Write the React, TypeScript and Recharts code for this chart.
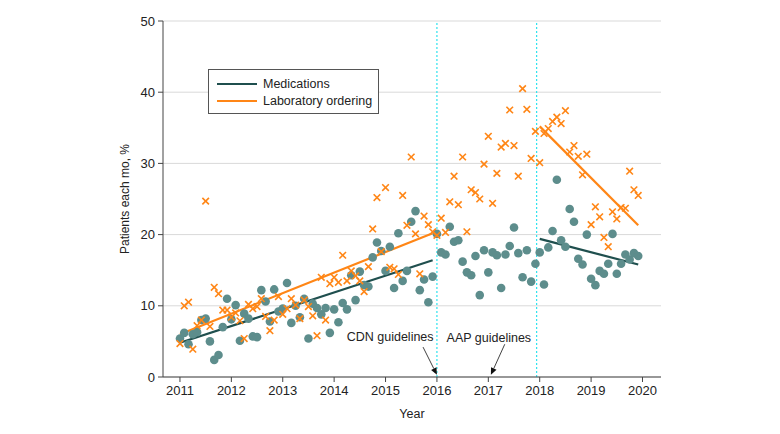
import React from 'react';
import {
  ComposedChart,
  Scatter,
  Line,
  XAxis,
  YAxis,
  CartesianGrid,
  ReferenceLine,
  ReferenceDot,
  Legend,
} from 'recharts';

// ---------- DATA ----------
const START_YEAR = 2011; // first monthly observation: January 2011

const medicationsPct = [
  5.4, 6.2, 4.6, 6.0, 6.3, 8.0, 8.2, 5.0, 2.4, 3.1, 7.0, 11.0,
  8.1, 10.1, 5.1, 8.9, 8.2, 5.7, 5.6, 12.2, 10.6, 7.8, 12.3, 9.2,
  9.6, 13.2, 7.6, 10.0, 8.4, 11.0, 5.4, 10.3, 9.7, 8.8, 9.7, 6.2,
  9.5, 7.7, 10.4, 9.5, 14.3, 10.8, 14.8, 12.9, 12.7, 16.8, 18.9, 17.7,
  14.9, 18.3, 12.5, 20.2, 13.5, 14.9, 21.8, 23.3, 12.2, 13.7, 10.5, 14.1,
  20.1, 17.5, 17.2, 21.1, 19.0, 19.2, 16.2, 14.7, 14.3, 17.0, 11.5, 17.8,
  14.7, 17.5, 17.1, 12.5, 17.2, 18.4, 21.0, 17.4, 14.0, 17.8, 13.4, 15.9,
  17.5, 13.0, 18.2, 20.5, 27.7, 19.2, 18.3, 23.6, 21.8, 16.6, 15.8, 20.0,
  13.8, 12.9, 14.9, 14.5, 15.9, 20.1, 14.5, 15.9, 17.2, 16.5, 17.4, 17.0,
];

const labOrderingPct = [
  4.7, 10.0, 10.5, 3.9, 7.2, 8.0, 24.7, 7.1, 12.6, 11.7, 9.4, 9.4,
  8.4, 9.0, 7.9, 5.4, 10.2, 9.6, 9.9, 11.0, 8.5, 6.5, 8.0, 11.3,
  8.8, 9.6, 11.0, 10.1, 8.2, 10.8, 9.9, 8.6, 5.8, 14.0, 8.0, 13.1,
  14.0, 13.3, 17.1, 13.5, 14.9, 14.2, 13.5, 12.0, 15.5, 20.8, 25.2, 17.6,
  26.6, 15.4, 15.2, 14.4, 25.5, 21.3, 30.9, 20.1, 14.5, 22.6, 21.4, 20.4,
  19.9, 22.3, 20.3, 24.6, 28.2, 24.2, 30.9, 20.4, 26.3, 25.9, 25.0, 29.9,
  33.8, 24.4, 28.6, 32.3, 32.8, 37.5, 32.5, 28.2, 40.5, 37.6, 30.7, 34.5,
  30.1, 34.2, 34.9, 35.9, 36.5, 35.6, 37.4, 31.6, 32.5, 31.0, 28.4, 31.3,
  21.4, 23.9, 22.5, 19.6, 18.3, 23.2, 22.2, 23.8, 23.7, 28.9, 26.3, 25.5,
];

// fitted trend segments (start / end of each period)
const medTrendPre = [
  { x: 2011.0, y: 4.8 },
  { x: 2015.917, y: 16.4 },
];
const labTrendPre = [
  { x: 2011.0, y: 6.0 },
  { x: 2015.917, y: 20.2 },
];
const medTrendPost = [
  { x: 2018.0, y: 19.4 },
  { x: 2019.917, y: 15.8 },
];
const labTrendPost = [
  { x: 2018.0, y: 35.2 },
  { x: 2019.917, y: 21.3 },
];

const seriesNames = ['Medications', 'Laboratory ordering'];
const xTicks = [2011, 2012, 2013, 2014, 2015, 2016, 2017, 2018, 2019, 2020];
const yTicks = [0, 10, 20, 30, 40, 50];
const periodBreaks = [2016.0, 2017.94];
const guidelineLabels = ['CDN guidelines', 'AAP guidelines'];
const guidelineYears = [2016.0, 2017.05];
const xLabel = 'Year';
const yLabel = 'Patients each mo, %';

// ---------- STYLE ----------
const FONT = '"Liberation Sans", Arial, sans-serif';
const MED_LINE = '#1f4f4e';
const MED_DOT = '#5d8d8c';
const LAB = '#ff8616';
const TEXT = '#222';
const AXIS = '#444';

const toPoints = (vals: number[]) =>
  vals.map((v, i) => ({ x: START_YEAR + i / 12, y: v }));

const medPoints = toPoints(medicationsPct);
const labPoints = toPoints(labOrderingPct);

// annotation layout (data coordinates of text and arrow)
const annotationLayout = [
  { textX: 2015.09, textY: 5.6, fromX: 2015.73, fromY: 4.2, toY: 0.3 },
  { textX: 2017.01, textY: 5.5, fromX: 2017.32, fromY: 4.6, toY: 0.3 },
];

const DotShape = (p: any) => (
  <circle cx={p.cx} cy={p.cy} r={4.3} fill={MED_DOT} stroke="none" />
);

const CrossShape = (p: any) => {
  const s = 3.3;
  return (
    <g stroke={LAB} strokeWidth={1.6} strokeLinecap="butt">
      <line x1={p.cx - s} y1={p.cy - s} x2={p.cx + s} y2={p.cy + s} />
      <line x1={p.cx - s} y1={p.cy + s} x2={p.cx + s} y2={p.cy - s} />
    </g>
  );
};

const ArrowShape = (p: any) => {
  const { x1, y1, x2, y2 } = p;
  const dx = x2 - x1;
  const dy = y2 - y1;
  const len = Math.sqrt(dx * dx + dy * dy) || 1;
  const ux = dx / len;
  const uy = dy / len;
  const L = 7;
  const W = 3;
  const bx = x2 - ux * L;
  const by = y2 - uy * L;
  const pts = `${x2},${y2} ${bx - uy * W},${by + ux * W} ${bx + uy * W},${by - ux * W}`;
  return (
    <g>
      <line x1={x1} y1={y1} x2={bx} y2={by} stroke="#111" strokeWidth={0.8} />
      <polygon points={pts} fill="#111" />
    </g>
  );
};

const renderLegend = (props: any) => {
  const items = (props.payload || [])
    .filter((e: any) => seriesNames.includes(e.value))
    .sort(
      (a: any, b: any) => seriesNames.indexOf(a.value) - seriesNames.indexOf(b.value)
    );
  return (
    <div
      style={{
        border: '1px solid #555',
        boxSizing: 'border-box',
        width: 171,
        height: 45,
        padding: '5px 0 0 8px',
        fontFamily: FONT,
        fontSize: 12.5,
        color: TEXT,
        background: '#fff',
      }}
    >
      {items.map((e: any) => (
        <div
          key={e.value}
          style={{ display: 'flex', alignItems: 'center', height: 17.5 }}
        >
          <svg width={46} height={10}>
            <line x1={0} y1={5} x2={40} y2={5} stroke={e.color} strokeWidth={2} />
          </svg>
          <span>{e.value}</span>
        </div>
      ))}
    </div>
  );
};

export default function App() {
  return (
    <div style={{ width: 780, height: 434, position: 'relative', background: '#fff' }}>
      <style>{`body{margin:0;}`}</style>
      <ComposedChart
        width={780}
        height={434}
        margin={{ top: 21, right: 119, bottom: 0, left: 0 }}
        style={{ fontFamily: FONT }}
      >
        <CartesianGrid vertical={false} stroke="#d9d9d9" strokeWidth={1} />
        <XAxis
          dataKey="x"
          type="number"
          domain={[2010.67, 2020.36]}
          ticks={xTicks}
          allowDataOverflow
          height={57}
          tickSize={5}
          tickMargin={4}
          stroke={AXIS}
          tick={{ fill: TEXT, fontSize: 13, fontFamily: FONT }}
          label={{
            content: (lp: any) => {
              const vb = lp.viewBox || {};
              return (
                <text
                  x={vb.x + vb.width / 2}
                  y={vb.y + 41}
                  textAnchor="middle"
                  fill={TEXT}
                  fontSize={12.5}
                  fontFamily={FONT}
                >
                  {xLabel}
                </text>
              );
            },
          }}
        />
        <YAxis
          type="number"
          domain={[0, 50]}
          ticks={yTicks}
          width={163}
          tickSize={5}
          tickMargin={3}
          stroke={AXIS}
          tick={{ fill: TEXT, fontSize: 13, fontFamily: FONT }}
          label={{
            content: (lp: any) => {
              const vb = lp.viewBox || {};
              const cx = vb.x + vb.width - 38;
              const cy = vb.y + vb.height / 2;
              return (
                <text
                  x={cx}
                  y={cy}
                  transform={`rotate(-90 ${cx} ${cy})`}
                  textAnchor="middle"
                  dominantBaseline="central"
                  fill={TEXT}
                  fontSize={12}
                  fontFamily={FONT}
                >
                  {yLabel}
                </text>
              );
            },
          }}
        />
        {periodBreaks.map((bx) => (
          <ReferenceLine
            key={bx}
            x={bx}
            stroke="#2fe3ef"
            strokeWidth={1.2}
            strokeDasharray="2 2"
          />
        ))}
        <Scatter
          name="med-points"
          data={medPoints}
          dataKey="y"
          shape={DotShape}
          legendType="none"
          isAnimationActive={false}
        />
        <Scatter
          name="lab-points"
          data={labPoints}
          dataKey="y"
          shape={CrossShape}
          legendType="none"
          isAnimationActive={false}
        />
        <Line
          name={seriesNames[0]}
          data={medTrendPre}
          dataKey="y"
          stroke={MED_LINE}
          strokeWidth={2.2}
          dot={false}
          activeDot={false}
          legendType="line"
          isAnimationActive={false}
        />
        <Line
          name={seriesNames[1]}
          data={labTrendPre}
          dataKey="y"
          stroke={LAB}
          strokeWidth={2.2}
          dot={false}
          activeDot={false}
          legendType="line"
          isAnimationActive={false}
        />
        <Line
          name="med-post"
          data={medTrendPost}
          dataKey="y"
          stroke={MED_LINE}
          strokeWidth={2.2}
          dot={false}
          activeDot={false}
          legendType="none"
          isAnimationActive={false}
        />
        <Line
          name="lab-post"
          data={labTrendPost}
          dataKey="y"
          stroke={LAB}
          strokeWidth={2.2}
          dot={false}
          activeDot={false}
          legendType="none"
          isAnimationActive={false}
        />
        {guidelineLabels.map((lbl, i) => {
          const a = annotationLayout[i];
          return (
            <ReferenceLine
              key={'arrow-' + lbl}
              segment={[
                { x: a.fromX, y: a.fromY },
                { x: guidelineYears[i], y: a.toY },
              ]}
              shape={ArrowShape}
              ifOverflow="visible"
            />
          );
        })}
        {guidelineLabels.map((lbl, i) => {
          const a = annotationLayout[i];
          return (
            <ReferenceDot
              key={'text-' + lbl}
              x={a.textX}
              y={a.textY}
              r={1}
              ifOverflow="visible"
              shape={(p: any) => (
                <text
                  x={p.cx}
                  y={p.cy}
                  textAnchor="middle"
                  dominantBaseline="central"
                  fill={TEXT}
                  fontSize={12.5}
                  fontFamily={FONT}
                >
                  {lbl}
                </text>
              )}
            />
          );
        })}
        <Legend
          layout="vertical"
          align="center"
          verticalAlign="middle"
          wrapperStyle={{ left: 208, top: 69, width: 171, height: 45 }}
          content={renderLegend}
        />
      </ComposedChart>
    </div>
  );
}
